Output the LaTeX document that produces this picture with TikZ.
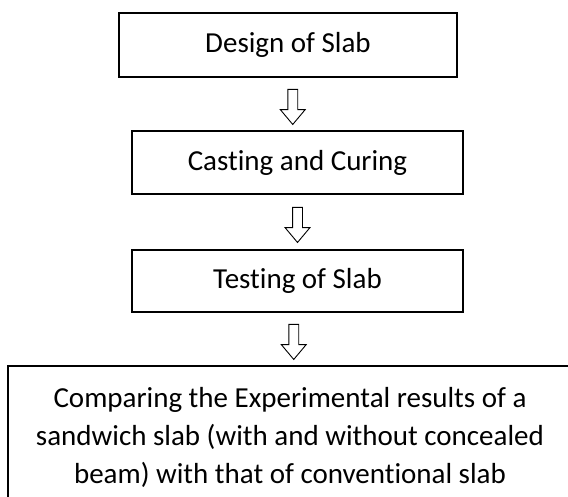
\documentclass[tikz,border=0pt]{standalone}
\usepackage{fontspec}
\setmainfont{Carlito}[Ligatures=NoCommon]
\usetikzlibrary{shapes.arrows}

\tikzset{
  stage/.style={draw, line width=1.3pt, inner sep=0pt, align=center,
    font=\fontsize{29}{38}\selectfont},
  downarrow/.style={draw, line width=0.9pt, single arrow, rotate=-90, fill=white,
    inner xsep=0pt, inner ysep=4.5pt, minimum height=35pt, minimum width=24pt,
    single arrow head extend=7.5pt, single arrow tip angle=80}
}

\begin{document}
\begin{tikzpicture}[x=1pt, y=-1pt]
\clip (0,0) rectangle (568,497);
\node[stage, minimum width=338pt, minimum height=64pt] (design) at (288,45) {Design of Slab};
\node[stage, minimum width=331pt, minimum height=63pt] (casting) at (297.5,162.5) {Casting and Curing};
\node[stage, minimum width=331pt, minimum height=62pt] (testing) at (297.5,281) {Testing of Slab};
\node[stage, minimum width=564pt, minimum height=142pt] (compare) at (290,437)
  {Comparing the Experimental results of a\\
   sandwich slab (with and without concealed\\
   beam) with that of conventional slab};
% arrows between the stages
\path (design.south) -- node[downarrow] {} (casting.north);
\path (casting.south) -- node[downarrow] {} (testing.north);
\path (testing.south) -- node[downarrow] {} (compare.north);
\end{tikzpicture}
\end{document}
